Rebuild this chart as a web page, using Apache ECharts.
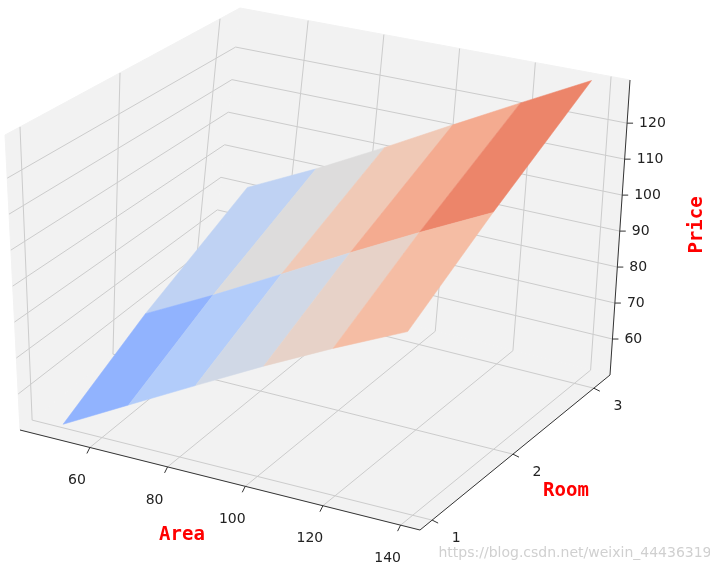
<!DOCTYPE html>
<html><head><meta charset="utf-8">
<script src="https://cdn.jsdelivr.net/npm/echarts@6/dist/echarts.min.js"></script>
<style>html,body{margin:0;padding:0;background:#fff}#c{width:710px;height:573px}</style>
</head><body><div id="c"></div>
<script>
// Data
const areas = [50, 67, 84, 101, 118, 136];
const rooms = [1, 2, 3.15];
const prices = [
  [51, 61, 71, 81, 90.5, 100],
  [64, 74, 84.5, 95, 105, 115],
  [80, 90, 100.5, 111, 121, 131]
];
const areaTicks = [60, 80, 100, 120, 140];
const roomTicks = [1, 2, 3];
const priceTicks = [60, 70, 80, 90, 100, 110, 120];

const XMIN = 42, XMAX = 145, YMIN = 0.85, YMAX = 3.2, ZMIN = 50, ZMAX = 132;
const O = [20, 430], XV = [400, 100], YV = [190, -155];
function P(x, y, z) {
  const xf = (x - XMIN) / (XMAX - XMIN), yf = (y - YMIN) / (YMAX - YMIN), zf = (z - ZMIN) / (ZMAX - ZMIN);
  const dxTop = -15 + 35 * xf + 45 * yf - 45 * xf * yf;
  const h = 295 - 28 * yf * (1 - xf);
  return [O[0] + xf * XV[0] + yf * YV[0] + zf * dxTop, O[1] + xf * XV[1] + yf * YV[1] - zf * h];
}
const stops = [[58,76,193],[98,130,234],[141,176,254],[184,208,249],[221,220,220],[245,196,173],[244,154,123],[222,96,77],[180,4,38]];
function coolwarm(t) {
  t = Math.max(0, Math.min(1, t)) * 8; const i = Math.min(7, Math.floor(t)), f = t - i;
  const c = stops[i].map((v, k) => Math.round(v + (stops[i + 1][k] - v) * f));
  return 'rgb(' + c.join(',') + ')';
}

function renderItem(params, api) {
  const C = p => api.coord(p);
  const kids = [];
  const poly = (pts, style) => kids.push({type: 'polygon', shape: {points: pts.map(C)}, style});
  const line = (a, b, stroke, w) => kids.push({type: 'line', shape: {x1: C(a)[0], y1: C(a)[1], x2: C(b)[0], y2: C(b)[1]}, style: {stroke, lineWidth: w || 1}});
  const text = (p, s, opt) => kids.push({type: 'text', x: C(p)[0], y: C(p)[1], style: Object.assign({text: s, fill: '#222', font: '14px "DejaVu Sans"', align: 'center', verticalAlign: 'middle'}, opt)});
  const pane = {fill: '#f2f2f2', stroke: '#f2f2f2'};
  poly([P(XMIN,YMAX,ZMIN),P(XMAX,YMAX,ZMIN),P(XMAX,YMAX,ZMAX),P(XMIN,YMAX,ZMAX)], pane);
  poly([P(XMIN,YMIN,ZMIN),P(XMIN,YMAX,ZMIN),P(XMIN,YMAX,ZMAX),P(XMIN,YMIN,ZMAX)], pane);
  poly([P(XMIN,YMIN,ZMIN),P(XMAX,YMIN,ZMIN),P(XMAX,YMAX,ZMIN),P(XMIN,YMAX,ZMIN)], pane);
  const g = '#cccccc';
  areaTicks.forEach(x => { line(P(x,YMIN,ZMIN), P(x,YMAX,ZMIN), g); line(P(x,YMAX,ZMIN), P(x,YMAX,ZMAX), g); });
  roomTicks.forEach(y => { line(P(XMIN,y,ZMIN), P(XMAX,y,ZMIN), g); line(P(XMIN,y,ZMIN), P(XMIN,y,ZMAX), g); });
  priceTicks.forEach(z => { line(P(XMIN,YMIN,z), P(XMIN,YMAX,z), g); line(P(XMIN,YMAX,z), P(XMAX,YMAX,z), g); });
  let zlo = Infinity, zhi = -Infinity;
  prices.forEach(r => r.forEach(v => { zlo = Math.min(zlo, v); zhi = Math.max(zhi, v); }));
  const faces = [];
  for (let j = 0; j < rooms.length - 1; j++) for (let i = 0; i < areas.length - 1; i++) {
    const zs = [prices[j][i], prices[j][i+1], prices[j+1][i+1], prices[j+1][i]];
    const m = zs.reduce((a, b) => a + b) / 4;
    faces.push({pts: [P(areas[i],rooms[j],zs[0]),P(areas[i+1],rooms[j],zs[1]),P(areas[i+1],rooms[j+1],zs[2]),P(areas[i],rooms[j+1],zs[3])],
      col: coolwarm(0.15 + 0.77 * (m - zlo) / (zhi - zlo)), d: j - i});
  }
  faces.sort((a, b) => b.d - a.d).forEach(f => poly(f.pts, {fill: f.col, stroke: f.col, lineWidth: 0.5}));
  const ax = '#333';
  line(P(XMIN,YMIN,ZMIN), P(XMAX,YMIN,ZMIN), ax);
  line(P(XMAX,YMIN,ZMIN), P(XMAX,YMAX,ZMIN), ax);
  line(P(XMAX,YMAX,ZMIN), P(XMAX,YMAX,ZMAX), ax);
  areaTicks.forEach(x => { const a = P(x,YMIN,ZMIN); line(a, [a[0]-3, a[1]+6], ax); text([a[0]-13, a[1]+33], String(x)); });
  roomTicks.forEach(y => { const a = P(XMAX,y,ZMIN); line(a, [a[0]+6, a[1]+3], ax); text([a[0]+24, a[1]+18], String(y)); });
  priceTicks.forEach(z => { const a = P(XMAX,YMAX,z); line(a, [a[0]+6, a[1]], ax); text([a[0]+12, a[1]], String(z), {align: 'left'}); });
  const tf = 'bold 19px "DejaVu Sans Mono"';
  text([182, 535], 'Area', {fill: 'red', font: tf});
  text([566, 491], 'Room', {fill: 'red', font: tf});
  kids.push({type: 'text', x: C([697,225])[0], y: C([697,225])[1], rotation: Math.PI/2,
    style: {text: 'Price', fill: 'red', font: tf, align: 'center', verticalAlign: 'middle'}});
  text([575, 553], 'https://blog.csdn.net/weixin_44436319', {fill: '#d0d0d0', font: '14px "DejaVu Sans"'});
  return {type: 'group', children: kids};
}

const chart = echarts.init(document.getElementById('c'));
chart.setOption({
  animation: false,
  grid: {left: 0, right: 0, top: 0, bottom: 0},
  xAxis: {type: 'value', min: 0, max: 710, show: false},
  yAxis: {type: 'value', min: 0, max: 573, inverse: true, show: false},
  series: [{type: 'custom', renderItem, data: [[0, 0]], silent: true}]
});
</script></body></html>
